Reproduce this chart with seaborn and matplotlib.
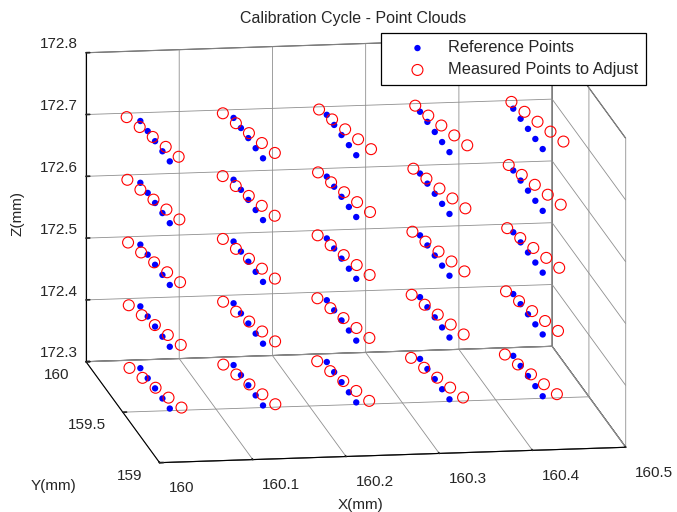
import numpy as np
import pandas as pd
import matplotlib
matplotlib.use("Agg")
import matplotlib.pyplot as plt
import seaborn as sns
from mpl_toolkits.mplot3d import proj3d

# ---------------- data (mm) ----------------
ref_x = [160.052, 160.152, 160.252, 160.352, 160.452]
ref_y = [159.92, 159.82, 159.72, 159.62, 159.52]
ref_z = [172.3, 172.4, 172.5, 172.6, 172.7]

# offsets of the measured points, rows = z level (bottom -> top), cols = x column
meas_dx_cluster = [
    [0.00054, 0.00119, 0.00189, 0.00259, 0.00323],
    [-0.00022, 0.00097, 0.00210, 0.00323, 0.00442],
    [-0.00097, 0.00075, 0.00237, 0.00404, 0.00571],
    [-0.00172, 0.00054, 0.00280, 0.00506, 0.00733],
    [-0.00248, 0.00070, 0.00388, 0.00706, 0.01024],
]
meas_dz_cluster = [
    [0.00098, 0.00138, 0.00179, 0.00220, 0.00261],
    [0.00244, 0.00309, 0.00366, 0.00423, 0.00489],
    [0.00399, 0.00472, 0.00554, 0.00627, 0.00700],
    [0.00554, 0.00643, 0.00733, 0.00822, 0.00912],
    [0.00700, 0.00806, 0.00904, 0.01010, 0.01107],
]
meas_dx_point = [-0.0122, -0.0061, 0.0, 0.0060, 0.0120]

x_ticks = [160, 160.1, 160.2, 160.3, 160.4, 160.5]
x_labels = ["160", "160.1", "160.2", "160.3", "160.4", "160.5"]
y_ticks = [159, 159.5, 160]
y_labels = ["159", "159.5", "160"]
z_ticks = [172.3, 172.4, 172.5, 172.6, 172.7, 172.8]
z_labels = ["172.3", "172.4", "172.5", "172.6", "172.7", "172.8"]

rows = []
for iz, z in enumerate(ref_z):
    for ix, x in enumerate(ref_x):
        for iy, y in enumerate(ref_y):
            rows.append(dict(x=x, y=y, z=z,
                             mx=x + meas_dx_cluster[iz][ix] + meas_dx_point[iy],
                             my=y,
                             mz=z + meas_dz_cluster[iz][ix]))
df = pd.DataFrame(rows)

# ---------------- style ----------------
sns.set_theme(style="white")
plt.rcParams["font.family"] = ["Liberation Sans", "DejaVu Sans"]
plt.rcParams["grid.color"] = "#8f8f8f"
plt.rcParams["grid.linewidth"] = 0.6
try:
    plt.rcParams["axes3d.automargin"] = False
except KeyError:
    pass

W, H = 677, 512
fig = plt.figure(figsize=(W / 100, H / 100), dpi=100)
fig.patch.set_facecolor("white")
ax = fig.add_subplot(projection="3d", proj_type="ortho")
ax.computed_zorder = False
ax.set_position([-0.4, -0.4, 1.8, 1.8])
ax.set_facecolor("white")

sc_ref = ax.scatter(df["x"], df["y"], df["z"], marker="o", s=21, c="#0000ff",
                    edgecolors="none", depthshade=False, label="Reference Points")
sc_meas = ax.scatter(df["mx"], df["my"], df["mz"], marker="o", s=62,
                     facecolors="none", edgecolors="#ff0000", linewidths=0.8,
                     depthshade=False, label="Measured Points to Adjust")

ax.set_xlim(160, 160.5)
ax.set_ylim(159, 160)
ax.set_zlim(172.3, 172.8)
ax.set_xticks(x_ticks)
ax.set_xticklabels([""] * len(x_ticks))
ax.set_yticks(y_ticks)
ax.set_yticklabels([""] * len(y_ticks))
ax.set_zticks(z_ticks)
ax.set_zticklabels([""] * len(z_ticks))

for axis in (ax.xaxis, ax.yaxis, ax.zaxis):
    axis.set_pane_color((1, 1, 1, 1))
    axis.pane.set_edgecolor("#303030")
    axis.pane.set_linewidth(0.8)
    axis.line.set_color("black")
    axis.line.set_linewidth(0.8)
    axis._axinfo["tick"]["inward_factor"] = 0.0
    axis._axinfo["tick"]["outward_factor"] = 0.1
ax.grid(True)

aspect = (471.7, 480.0, 316.2)
ax.view_init(elev=12.29, azim=-98.82)
ax.set_box_aspect(aspect, zoom=1.0)


def to_img(xs, ys, zs):
    xs, ys, zs = (np.atleast_1d(np.asarray(v, dtype=float)) for v in (xs, ys, zs))
    px, py, _ = proj3d.proj_transform(xs, ys, zs, ax.get_proj())
    d = ax.transData.transform(np.column_stack([px, py]))
    return np.column_stack([d[:, 0], H - d[:, 1]])


A_t = np.array([86.0, 52.7])
B_t = np.array([625.7, 447.3])
zoom_now = 1.0
for _ in range(2):
    fig.canvas.draw()
    p = to_img([160, 160.5], [160, 159], [172.8, 172.3])
    zoom_now *= np.linalg.norm(B_t - A_t) / np.linalg.norm(p[1] - p[0])
    ax.set_box_aspect(aspect, zoom=zoom_now)
    fig.canvas.draw()
    p = to_img([160, 160.5], [160, 159], [172.8, 172.3])
    shift = (A_t + B_t) / 2 - p.mean(axis=0)
    pos = ax.get_position(original=True)
    ax.set_position([pos.x0 + shift[0] / W, pos.y0 - shift[1] / H, pos.width, pos.height])
fig.canvas.draw()

tick_fs = 11
# z tick labels
pz = to_img([160] * len(z_ticks), [160] * len(z_ticks), z_ticks)
for (x, y), lab in zip(pz, z_labels):
    fig.text((x - 8) / W, 1 - (y - 4.4) / H, lab, ha="right", va="baseline", fontsize=tick_fs)
# y tick labels
py_ = to_img([160] * len(y_ticks), y_ticks, [172.3] * len(y_ticks))
for (x, y), lab in zip(py_, y_labels):
    fig.text((x - 17) / W, 1 - (y + 17.3) / H, lab, ha="right", va="baseline", fontsize=tick_fs)
# x tick labels
px_ = to_img(x_ticks, [159] * len(x_ticks), [172.3] * len(x_ticks))
for (x, y), lab in zip(px_, x_labels):
    fig.text((x + 9.5) / W, 1 - (y + 29.5) / H, lab, ha="left", va="baseline", fontsize=tick_fs)

fig.text(353.3 / W, 1 - 23.3 / H, "Calibration Cycle - Point Clouds", ha="center",
         va="baseline", fontsize=11.5)
fig.text(17.5 / W, 1 - 213 / H, "Z(mm)", ha="center", va="center", rotation=90, fontsize=11)
fig.text(53.3 / W, 1 - 490 / H, "Y(mm)", ha="center", va="baseline", fontsize=11)
fig.text(361 / W, 1 - 508.5 / H, "X(mm)", ha="center", va="baseline", fontsize=11)

leg = fig.legend(handles=[sc_ref, sc_meas], loc="upper left",
                 bbox_to_anchor=(381 / W, 1 - 33 / H), borderaxespad=0,
                 frameon=True, fancybox=False, edgecolor="black", framealpha=1,
                 fontsize=11.8, borderpad=0.45, handlelength=3.55,
                 handletextpad=0.1, labelspacing=0.42)
leg.get_frame().set_linewidth(0.9)

fig.savefig("out.png", dpi=100, facecolor="white")
